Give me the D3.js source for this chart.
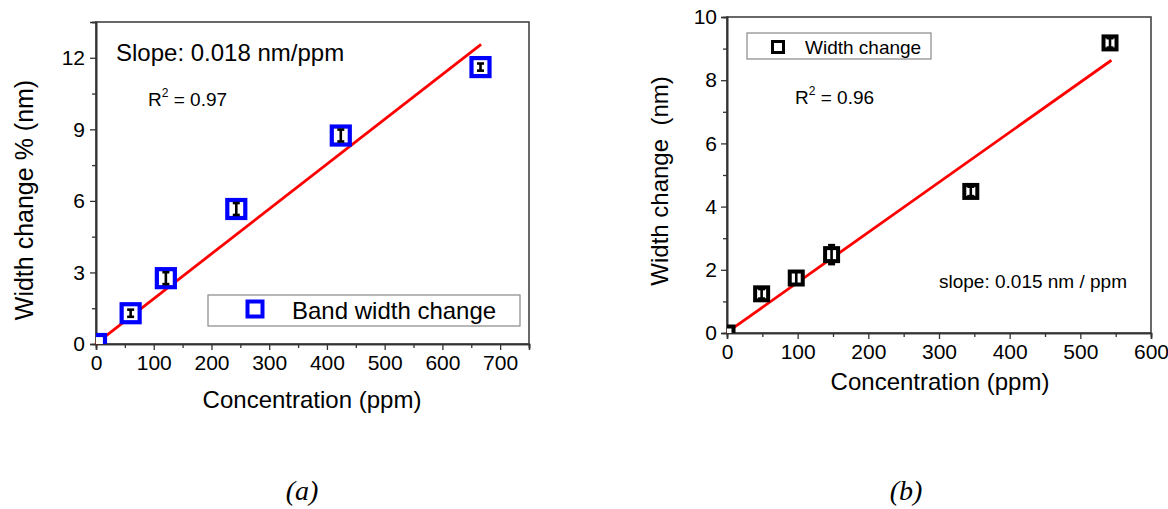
<!DOCTYPE html>
<html>
<head>
<meta charset="utf-8">
<script src="https://cdn.jsdelivr.net/npm/d3@7"></script>
<style>
  body { margin: 0; background: #fff; }
  text { font-family: "Liberation Sans", Arial, sans-serif; fill: #000; }
</style>
</head>
<body>
<div id="chart"></div>
<script>
// panel (a): band width change
const concA = [0, 60, 121, 243, 424, 666]
const widthA = [0, 1.29, 2.76, 5.66, 8.74, 11.61]
const errA = [0.15, 0.15, 0.25, 0.25, 0.25, 0.15]
const fitA = { slope: 0.0188, intercept: 0.02, xEnd: 667 }
const xTicksA = [0, 100, 200, 300, 400, 500, 600, 700]
const yTicksA = [0, 3, 6, 9, 12]

// panel (b): width change
const concB = [0, 49, 98, 148, 345, 542]
const widthB = [0, 1.24, 1.74, 2.48, 4.48, 9.18]
const errB = [0.15, 0.15, 0.2, 0.3, 0.15, 0.15]
const fitB = { slope: 0.01583, intercept: 0.02, xEnd: 544 }
const xTicksB = [0, 100, 200, 300, 400, 500, 600]
const yTicksB = [0, 2, 4, 6, 8, 10]

const svg = d3.select('#chart')
  .append('svg')
  .attr('width', 1168)
  .attr('height', 509)

function drawPanel(p) {
  const x = d3.scaleLinear().domain(p.xDomain).range([p.left, p.right])
  const y = d3.scaleLinear().domain(p.yDomain).range([p.bottom, p.top])
  const g = svg.append('g')

  // clip for the markers
  g.append('clipPath').attr('id', p.id + '-clip')
    .append('rect')
    .attr('x', p.left).attr('y', p.top)
    .attr('width', p.right - p.left).attr('height', p.bottom - p.top)

  // frame
  g.append('rect')
    .attr('x', p.left).attr('y', p.top)
    .attr('width', p.right - p.left).attr('height', p.bottom - p.top)
    .attr('fill', 'none')
    .attr('stroke', '#444')
    .attr('stroke-width', 1.6)

  // axes
  g.append('g')
    .attr('transform', `translate(0,${p.bottom})`)
    .call(d3.axisBottom(x).tickValues(p.xTicks).tickSize(6).tickPadding(5))
  g.append('g')
    .attr('transform', `translate(0,${p.bottom})`)
    .call(d3.axisBottom(x).tickValues(p.xMinor).tickSize(4).tickFormat(''))
  g.append('g')
    .attr('transform', `translate(${p.left},0)`)
    .call(d3.axisLeft(y).tickValues(p.yTicks).tickSize(6).tickPadding(p.yPad))
  g.append('g')
    .attr('transform', `translate(${p.left},0)`)
    .call(d3.axisLeft(y).tickValues(p.yMinor).tickSize(4).tickFormat(''))
  g.selectAll('.domain').attr('stroke', '#333').attr('stroke-width', 1.6)
  g.selectAll('.tick line').attr('stroke', '#333').attr('stroke-width', 1.3)
  g.selectAll('.tick text')
    .attr('font-family', '"Liberation Sans", Arial, sans-serif')
    .attr('font-size', 21)
    .attr('fill', '#000')

  // fit line
  const line = d3.line().x((d) => x(d)).y((d) => y(p.fit.intercept + p.fit.slope * d))
  g.append('path')
    .datum([0, p.fit.xEnd])
    .attr('d', line)
    .attr('fill', 'none')
    .attr('stroke', '#ff0000')
    .attr('stroke-width', 2.8)

  // markers
  const pts = p.xs.map((v, i) => ({ x: v, y: p.ys[i], e: p.errs[i] }))
  const m = g.append('g').attr('clip-path', `url(#${p.id}-clip)`)
  m.selectAll('rect')
    .data(pts)
    .join('rect')
    .attr('x', (d) => x(d.x) - p.size / 2)
    .attr('y', (d) => y(d.y) - p.size / 2)
    .attr('width', p.size)
    .attr('height', p.size)
    .attr('fill', '#fff')
    .attr('stroke', p.color)
    .attr('stroke-width', p.sw)

  // error bars
  const eb = m.selectAll('g.err')
    .data(pts.slice(1))
    .join('g')
    .attr('class', 'err')
    .attr('stroke', '#000')
    .attr('stroke-width', 2.6)
  eb.append('line')
    .attr('x1', (d) => x(d.x)).attr('x2', (d) => x(d.x))
    .attr('y1', (d) => y(d.y - d.e)).attr('y2', (d) => y(d.y + d.e))
  eb.append('line')
    .attr('x1', (d) => x(d.x) - p.cap).attr('x2', (d) => x(d.x) + p.cap)
    .attr('y1', (d) => y(d.y - d.e)).attr('y2', (d) => y(d.y - d.e))
  eb.append('line')
    .attr('x1', (d) => x(d.x) - p.cap).attr('x2', (d) => x(d.x) + p.cap)
    .attr('y1', (d) => y(d.y + d.e)).attr('y2', (d) => y(d.y + d.e))

  return g
}

const gA = drawPanel({
  id: 'a', left: 96, right: 529, top: 22, bottom: 344,
  xDomain: [0, 750], yDomain: [0, 13.5],
  xTicks: xTicksA, xMinor: [50, 150, 250, 350, 450, 550, 650, 750],
  yTicks: yTicksA, yMinor: [1.5, 4.5, 7.5, 10.5, 13.5], yPad: 5,
  xs: concA, ys: widthA, errs: errA, fit: fitA,
  color: '#0000ff', size: 18, sw: 4.2, cap: 3.5
})

const gB = drawPanel({
  id: 'b', left: 727, right: 1151, top: 17, bottom: 333,
  xDomain: [0, 600], yDomain: [0, 10],
  xTicks: xTicksB, xMinor: [50, 150, 250, 350, 450, 550],
  yTicks: yTicksB, yMinor: [1, 3, 5, 7, 9], yPad: 4,
  xs: concB, ys: widthB, errs: errB, fit: fitB,
  color: '#000', size: 13, sw: 4, cap: 3.5
})

// panel (a) texts
gA.append('text').attr('x', 116).attr('y', 61).attr('font-size', 24)
  .text('Slope: 0.018 nm/ppm')
const rA = gA.append('text').attr('x', 148).attr('y', 106).attr('font-size', 19)
rA.append('tspan').text('R')
rA.append('tspan').attr('font-size', 12).attr('dy', -9).text('2')
rA.append('tspan').attr('dy', 9).text(' = 0.97')

gA.append('rect').attr('x', 208).attr('y', 295).attr('width', 312).attr('height', 31)
  .attr('fill', '#fff').attr('stroke', '#888').attr('stroke-width', 1.2)
gA.append('rect').attr('x', 247.5).attr('y', 301.5).attr('width', 15).attr('height', 15)
  .attr('fill', '#fff').attr('stroke', '#0000ff').attr('stroke-width', 4)
gA.append('text').attr('x', 292).attr('y', 319).attr('font-size', 24)
  .text('Band width change')

gA.append('text').attr('x', 312).attr('y', 408).attr('font-size', 24)
  .attr('text-anchor', 'middle').text('Concentration (ppm)')
gA.append('text')
  .attr('transform', 'translate(33,200) rotate(-90)')
  .attr('font-size', 25).attr('text-anchor', 'middle')
  .text('Width change % (nm)')

// panel (b) texts
gB.append('rect').attr('x', 747).attr('y', 33).attr('width', 184).attr('height', 26)
  .attr('fill', '#fff').attr('stroke', '#888').attr('stroke-width', 1.2)
gB.append('rect').attr('x', 772.5).attr('y', 41.5).attr('width', 11).attr('height', 11)
  .attr('fill', '#fff').attr('stroke', '#000').attr('stroke-width', 3)
gB.append('text').attr('x', 805).attr('y', 54).attr('font-size', 19)
  .text('Width change')
const rB = gB.append('text').attr('x', 795).attr('y', 104).attr('font-size', 19)
rB.append('tspan').text('R')
rB.append('tspan').attr('font-size', 12).attr('dy', -9).text('2')
rB.append('tspan').attr('dy', 9).text(' = 0.96')
gB.append('text').attr('x', 939).attr('y', 288).attr('font-size', 19)
  .text('slope: 0.015 nm / ppm')

gB.append('text').attr('x', 940).attr('y', 390).attr('font-size', 24)
  .attr('text-anchor', 'middle').text('Concentration (ppm)')
gB.append('text')
  .attr('transform', 'translate(668,181) rotate(-90)')
  .attr('font-size', 24).attr('text-anchor', 'middle')
  .style('white-space', 'pre')
  .text('Width change  (nm)')

// captions
svg.append('text').attr('x', 302).attr('y', 500).attr('text-anchor', 'middle')
  .style('font-family', '"Liberation Serif", "Times New Roman", serif')
  .style('font-style', 'italic').attr('font-size', 28).text('(a)')
svg.append('text').attr('x', 906).attr('y', 500).attr('text-anchor', 'middle')
  .style('font-family', '"Liberation Serif", "Times New Roman", serif')
  .style('font-style', 'italic').attr('font-size', 28).text('(b)')
</script>
</body>
</html>
